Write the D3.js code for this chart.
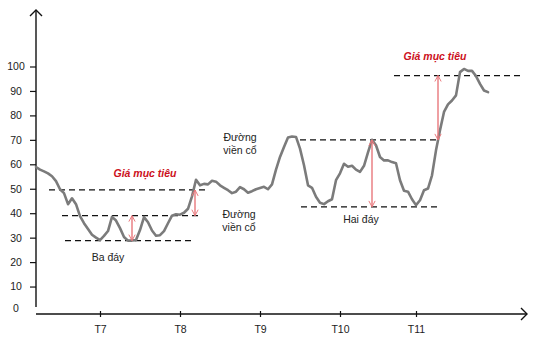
<!DOCTYPE html>
<html>
<head>
<meta charset="utf-8">
<script src="https://cdn.jsdelivr.net/npm/d3@7/dist/d3.min.js"></script>
<style>
  html, body { margin: 0; padding: 0; background: #fff; }
  svg { display: block; font-family: "Liberation Sans", Arial, Helvetica, sans-serif; }
</style>
</head>
<body>
<svg id="chart" width="537" height="342"></svg>
<script>
// Closing price per trading session
const price = [
  58.9, 57.8, 57.1, 56.3, 55.1, 53.1, 49.8, 48.2, 43.7, 46.1,
  43.7, 38.8, 35.9, 33.5, 31.2, 30.0, 29.0, 30.7, 32.7, 38.5,
  37.0, 33.9, 30.3, 28.8, 28.8, 29.0, 33.1, 38.4, 36.3, 32.9,
  30.8, 31.0, 32.7, 35.9, 39.0, 39.6, 39.4, 40.2, 41.8, 46.9,
  53.7, 51.4, 52.0, 51.8, 53.3, 52.9, 51.4, 50.4, 49.4, 48.2,
  48.8, 50.7, 49.8, 48.4, 49.0, 49.8, 50.3, 50.8, 49.8, 51.8,
  57.8, 63.0, 67.1, 71.0, 71.4, 71.2, 66.4, 59.6, 51.4, 50.4,
  46.7, 44.3, 43.7, 44.9, 45.7, 53.5, 56.3, 60.2, 59.0, 59.4,
  57.8, 56.9, 59.4, 64.9, 70.0, 67.8, 63.0, 61.6, 61.6, 60.9,
  60.4, 53.5, 49.2, 48.8, 45.7, 43.3, 45.3, 49.4, 50.1, 55.5,
  65.7, 73.9, 81.4, 84.5, 86.1, 88.2, 97.7, 99.0, 98.2, 98.2,
  96.1, 92.9, 90.2, 89.5
];

// Month ticks (session index of each month label)
const monthTicks = [16, 36, 56, 76, 95];
const monthLabels = ["T7", "T8", "T9", "T10", "T11"];
const yTicks = [0, 10, 20, 30, 40, 50, 60, 70, 80, 90, 100];

// Pattern levels: start session, end session, price
const levelStart = [3.25, 6.5, 7.25, 66, 66.25, 89.5];
const levelEnd   = [42.25, 41, 39, 100.25, 100.25, 121.5];
const levelPrice = [49.5, 39.0, 28.8, 70.0, 42.6, 96.3];

// Measured moves: session, from price, to price
const moveAt   = [24, 39.75, 84, 100.5];
const moveFrom = [39.0, 49.5, 70.0, 96.3];
const moveTo   = [28.8, 39.0, 42.6, 70.0];

const svg = d3.select("#chart");
const x = d3.scaleLinear().domain([0, 122.75]).range([36, 527]);
const y = d3.scaleLinear().domain([0, 100]).range([311, 66.5]);

const defs = svg.append("defs");
defs.append("marker")
  .attr("id", "redHead")
  .attr("viewBox", "0 0 10 10")
  .attr("refX", 9.5).attr("refY", 5)
  .attr("markerUnits", "userSpaceOnUse")
  .attr("markerWidth", 7).attr("markerHeight", 8)
  .attr("orient", "auto-start-reverse")
  .append("path")
  .attr("d", "M1,0.5 L9.5,5 L1,9.5")
  .attr("fill", "none")
  .attr("stroke", "#e8787c")
  .attr("stroke-width", 1.4);

// Axes lines with open arrowheads
const axisColor = "#111";
svg.append("line").attr("x1", 36).attr("x2", 36).attr("y1", 10).attr("y2", 307)
  .attr("stroke", axisColor).attr("stroke-width", 1.4);
svg.append("path").attr("d", "M30,16 L36,10 L42,16")
  .attr("fill", "none").attr("stroke", axisColor).attr("stroke-width", 1.4);
svg.append("line").attr("x1", 36).attr("x2", 527).attr("y1", 314).attr("y2", 314)
  .attr("stroke", axisColor).attr("stroke-width", 1.4);
svg.append("path").attr("d", "M521,308 L527,314 L521,320")
  .attr("fill", "none").attr("stroke", axisColor).attr("stroke-width", 1.4);

// Y axis ticks and labels
const yAxis = svg.append("g")
  .attr("transform", "translate(36,0)")
  .call(d3.axisLeft(y).tickValues(yTicks).tickSize(6).tickFormat(d3.format("d")));
yAxis.select(".domain").remove();
yAxis.selectAll(".tick line").attr("stroke", axisColor).attr("stroke-width", 1.2)
  .filter(d => d === 0).remove();
yAxis.selectAll(".tick text")
  .attr("x", -20).attr("text-anchor", "middle")
  .attr("fill", "#222").style("font-size", "10.5px")
  .attr("y", d => d === 0 ? -3 : 0)
  .attr("dy", "0.32em");

// X axis ticks and labels
const xAxis = svg.append("g")
  .attr("transform", "translate(0,314)")
  .call(d3.axisBottom(x).tickValues(monthTicks).tickSize(3)
    .tickFormat((d, i) => monthLabels[i]));
xAxis.select(".domain").remove();
xAxis.selectAll(".tick line").attr("y1", -3).attr("stroke", axisColor).attr("stroke-width", 1.2);
xAxis.selectAll(".tick text")
  .attr("y", 12).attr("fill", "#222").style("font-size", "10.5px");

// Support / resistance levels
svg.append("g").selectAll("line").data(levelPrice).join("line")
  .attr("x1", (d, i) => x(levelStart[i]))
  .attr("x2", (d, i) => x(levelEnd[i]))
  .attr("y1", d => y(d)).attr("y2", d => y(d))
  .attr("stroke", "#111").attr("stroke-width", 1.3)
  .attr("stroke-dasharray", "6,4");

// Price line
svg.append("path")
  .datum(price)
  .attr("d", d3.line().x((d, i) => x(i)).y(d => y(d)))
  .attr("fill", "none")
  .attr("stroke", "#7b7b7b")
  .attr("stroke-width", 2.6)
  .attr("stroke-linejoin", "round")
  .attr("stroke-linecap", "round");

// Measured-move arrows
svg.append("g").selectAll("line").data(moveAt).join("line")
  .attr("x1", d => x(d)).attr("x2", d => x(d))
  .attr("y1", (d, i) => y(moveFrom[i]))
  .attr("y2", (d, i) => y(moveTo[i]))
  .attr("stroke", "#e8787c").attr("stroke-width", 1.4)
  .attr("marker-start", "url(#redHead)")
  .attr("marker-end", "url(#redHead)");

// Annotations
const notes = [
  { t: ["Giá mục tiêu"], x: 145, y: 173, red: true },
  { t: ["Giá mục tiêu"], x: 435, y: 56, red: true },
  { t: ["Ba đáy"], x: 108, y: 257 },
  { t: ["Đường", "viền cổ"], x: 240, y: 137 },
  { t: ["Đường", "viền cổ"], x: 239, y: 214 },
  { t: ["Hai đáy"], x: 361, y: 219 }
];
notes.forEach(n => {
  const txt = svg.append("text")
    .attr("x", n.x).attr("y", n.y)
    .attr("text-anchor", "middle")
    .attr("fill", n.red ? "#cc1020" : "#222")
    .style("font-size", "10.5px")
    .style("font-weight", n.red ? "bold" : "normal")
    .style("font-style", n.red ? "italic" : "normal");
  n.t.forEach((s, k) => {
    txt.append("tspan").attr("x", n.x).attr("dy", k === 0 ? "0.35em" : "1.3em").text(s);
  });
});
</script>
</body>
</html>
